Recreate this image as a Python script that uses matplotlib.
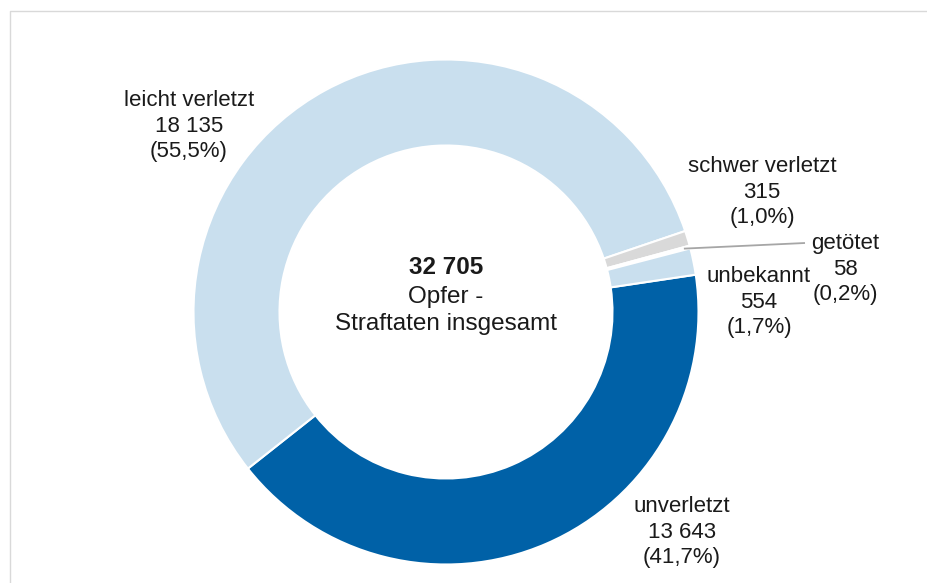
import numpy as np
import matplotlib
matplotlib.use("Agg")
import matplotlib.pyplot as plt
from matplotlib.lines import Line2D

plt.rcParams['font.family'] = ['Liberation Sans', 'DejaVu Sans']

# ---- data ----
categories = ["unverletzt", "leicht verletzt", "schwer verletzt", "getötet", "unbekannt"]
values = [13643, 18135, 315, 58, 554]
colors = ["#0061A7", "#C9DFEE", "#D9D9D9", "#FFFFFF", "#C9DFEE"]
total_label = "32 705"
center_lines = ["Opfer -", "Straftaten insgesamt"]

W, H = 927, 583
fig = plt.figure(figsize=(W / 100, H / 100), dpi=100)
ax = fig.add_axes([0, 0, 1, 1])

def Y(y_img):
    return H - y_img

cx, cy = 446, 312
R = 252.5
ring_w = 86

wedges, _ = ax.pie(values, colors=colors, center=(cx, Y(cy)), radius=R,
                   startangle=8.5, counterclock=False,
                   wedgeprops=dict(width=ring_w, edgecolor="white", linewidth=1.5))
ax.set_xlim(0, W)
ax.set_ylim(0, H)
ax.set_aspect("equal")
ax.axis("off")

def fmt_num(v):
    return f"{v:,}".replace(",", " ")

tot = sum(values)
def fmt_pct(v):
    return "(" + f"{100 * v / tot:.1f}".replace(".", ",") + "%)"

# label positions (image pixel coords for the first line centre)
label_pos = {
    "leicht verletzt": (189, 101),
    "schwer verletzt": (762, 167),
    "getötet": (845, 244),
    "unbekannt": (759, 277),
    "unverletzt": (682, 507),
}
fs = 16.0
lsp = 25.3
for cat, v in zip(categories, values):
    x, y0 = label_pos[cat]
    for i, s in enumerate([cat, fmt_num(v), fmt_pct(v)]):
        ax.text(x, Y(y0 + i * lsp), s, ha="center", va="center",
                fontsize=fs, color="#1a1a1a")

# leader line for getötet
idx = categories.index("getötet")
w = wedges[idx]
mid = np.deg2rad((w.theta1 + w.theta2) / 2)
x0 = cx + 0.975 * R * np.cos(mid)
y0 = Y(cy) + 0.975 * R * np.sin(mid)
ax.plot([x0, 805], [y0, Y(243)], color="#A6A6A6", lw=1.3, solid_capstyle="butt")

# centre text
ax.text(cx, Y(268), total_label, ha="center", va="center", fontsize=17.5,
        fontweight="bold", color="#1a1a1a")
ax.text(cx, Y(297), center_lines[0], ha="center", va="center", fontsize=17.5,
        color="#1a1a1a")
ax.text(cx, Y(324), center_lines[1], ha="center", va="center", fontsize=17.5,
        color="#1a1a1a")

# frame border (left and top)
fig.add_artist(Line2D([9.5 / W, 9.5 / W, 1.0], [0.0, 1 - 10.5 / H, 1 - 10.5 / H],
                      transform=fig.transFigure, color="#D9D9D9", lw=1.0))

fig.savefig("out.png", dpi=100)
